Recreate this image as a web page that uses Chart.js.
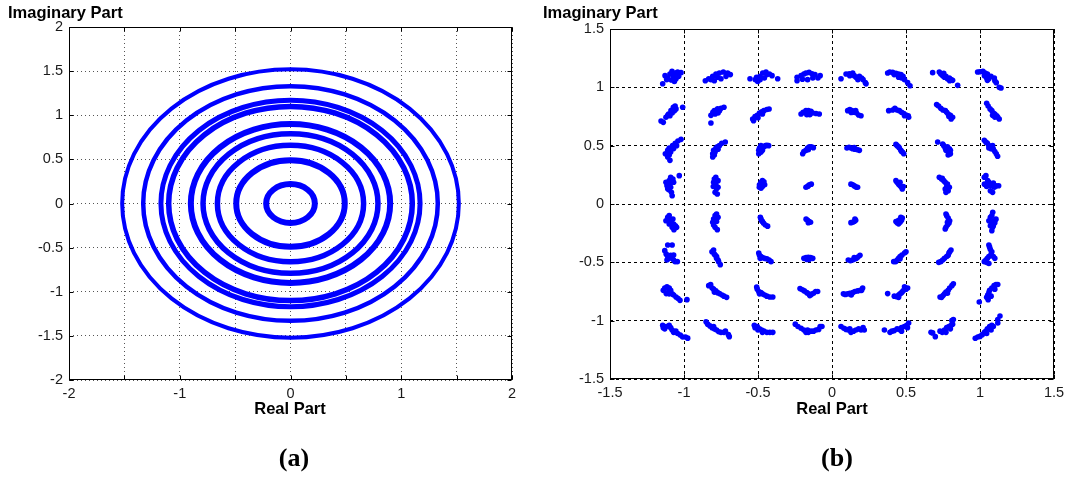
<!DOCTYPE html>
<html>
<head>
<meta charset="utf-8">
<script src="https://cdn.jsdelivr.net/npm/chart.js@4.4.1/dist/chart.umd.min.js"></script>
<style>
  html, body { margin: 0; padding: 0; background: #fff; }
  #wrap { position: relative; width: 1072px; height: 479px; overflow: hidden; background: #fff; }
  canvas { position: absolute; top: 0; }
  #cA { left: 0; }
  #cB { left: 536px; }
  .lbl { position: absolute; font-family: 'Liberation Sans', Arial, sans-serif; font-weight: bold; font-size: 16.5px; line-height: 20px; color: #000; white-space: nowrap; }
  .cap { position: absolute; font-family: 'Liberation Serif', 'Times New Roman', serif; font-weight: bold; font-size: 26px; line-height: 30px; color: #000; white-space: nowrap; transform: translateX(-50%); }
  .ctr { transform: translateX(-50%); }
</style>
</head>
<body>
<div id="wrap">
  <canvas id="cA" width="536" height="479"></canvas>
  <canvas id="cB" width="536" height="479"></canvas>
  <div class="lbl" style="left:8px; top:2px;">Imaginary Part</div>
  <div class="lbl ctr" style="left:290px; top:398px;">Real Part</div>
  <div class="cap" style="left:294px; top:443px;">(a)</div>
  <div class="lbl" style="left:543px; top:2px;">Imaginary Part</div>
  <div class="lbl ctr" style="left:832px; top:398px;">Real Part</div>
  <div class="cap" style="left:837px; top:443px;">(b)</div>
</div>
<script>
// ---------- (a) ring radii ----------
const ringRadii = [0.22, 0.49, 0.66, 0.79, 0.90, 1.10, 1.17, 1.33, 1.52];
const ringWidths = [6, 6, 5.5, 5.5, 6, 5.5, 5, 4.5, 4];

// ---------- tick values ----------
const ticksA = [-2, -1.5, -1, -0.5, 0, 0.5, 1, 1.5, 2];
const ticksB = [-1.5, -1, -0.5, 0, 0.5, 1, 1.5];

// ---------- (b) constellation points, grouped by row (Real, Imag) ----------
const rowQ1 = [
 [-1.144,1.031],[-1.128,1.100],[-1.110,1.080],[-1.095,1.114],[-1.081,1.137],[-1.072,1.094],[-1.059,1.123],[-1.043,1.131],[-1.020,1.126],[-1.086,1.063],[-1.054,1.074],[-1.036,1.094],[-1.117,1.066],[-1.065,1.051],
 [-0.856,1.057],[-0.833,1.074],[-0.806,1.094],[-0.784,1.114],[-0.761,1.123],[-0.734,1.131],[-0.705,1.123],[-0.687,1.109],[-0.795,1.057],[-0.750,1.074],[-0.716,1.094],[-0.818,1.066],[-0.773,1.086],
 [-0.554,1.074],[-0.518,1.066],[-0.502,1.051],[-0.486,1.094],[-0.468,1.123],[-0.446,1.131],[-0.423,1.114],[-0.405,1.100],[-0.367,1.074],[-0.486,1.066],[-0.457,1.080],[-0.440,1.109],[-0.510,1.086],
 [-0.236,1.057],[-0.236,1.086],[-0.209,1.100],[-0.190,1.114],[-0.176,1.123],[-0.155,1.128],[-0.135,1.117],[-0.115,1.109],[-0.080,1.100],[-0.095,1.080],[-0.130,1.080],[-0.165,1.066],[-0.200,1.070],
 [0.061,1.074],[0.095,1.114],[0.117,1.117],[0.140,1.123],[0.150,1.100],[0.162,1.086],[0.175,1.066],[0.185,1.094],[0.200,1.080],[0.210,1.066],[0.225,1.040],[0.230,1.030],[0.120,1.100],
 [0.376,1.123],[0.390,1.131],[0.410,1.128],[0.432,1.120],[0.450,1.114],[0.466,1.109],[0.480,1.094],[0.470,1.080],[0.490,1.066],[0.450,1.086],[0.420,1.109],[0.511,1.040],[0.527,1.014],
 [0.680,1.126],[0.725,1.131],[0.735,1.114],[0.748,1.100],[0.760,1.086],[0.770,1.094],[0.780,1.074],[0.793,1.080],[0.805,1.066],[0.815,1.060],[0.795,1.057],[0.849,1.017],[0.755,1.120],
 [0.984,1.131],[1.000,1.134],[1.020,1.137],[1.035,1.123],[1.050,1.114],[1.030,1.100],[1.045,1.080],[1.060,1.074],[1.074,1.094],[1.097,1.080],[1.100,1.057],[1.110,1.040],[1.130,1.000],[1.142,0.994],[1.050,1.060]
];
const rowQ2 = [
 [-1.155,0.711],[-1.140,0.700],[-1.122,0.743],[-1.104,0.772],[-1.088,0.800],[-1.072,0.829],[-1.060,0.840],[-1.054,0.815],[-1.080,0.780],[-1.095,0.757],[-1.110,0.760],[-1.009,0.829],[-1.065,0.800],
 [-0.818,0.694],[-0.818,0.760],[-0.805,0.786],[-0.795,0.800],[-0.790,0.772],[-0.773,0.815],[-0.760,0.800],[-0.750,0.820],[-0.730,0.829],[-0.770,0.780],
 [-0.536,0.729],[-0.530,0.714],[-0.520,0.750],[-0.505,0.760],[-0.490,0.780],[-0.475,0.790],[-0.460,0.800],[-0.440,0.810],[-0.425,0.814],[-0.470,0.772],[-0.500,0.740],
 [-0.209,0.772],[-0.195,0.785],[-0.176,0.800],[-0.160,0.800],[-0.142,0.795],[-0.130,0.780],[-0.108,0.776],[-0.086,0.772],[-0.170,0.766],[-0.150,0.765],
 [0.106,0.800],[0.120,0.809],[0.135,0.800],[0.150,0.786],[0.165,0.780],[0.180,0.763],[0.196,0.757],[0.160,0.800],[0.130,0.785],
 [0.383,0.800],[0.410,0.806],[0.425,0.820],[0.440,0.806],[0.455,0.800],[0.470,0.786],[0.485,0.776],[0.500,0.763],[0.515,0.757],[0.518,0.743],[0.490,0.757],
 [0.707,0.852],[0.720,0.840],[0.735,0.820],[0.750,0.806],[0.766,0.800],[0.775,0.786],[0.785,0.772],[0.800,0.760],[0.805,0.729],[0.815,0.743],[0.790,0.750],
 [1.045,0.863],[1.055,0.840],[1.068,0.815],[1.080,0.800],[1.090,0.780],[1.100,0.772],[1.113,0.757],[1.120,0.743],[1.130,0.729],[1.100,0.745],[1.085,0.760]
];
const rowQ3 = [
 [-1.126,0.431],[-1.110,0.403],[-1.110,0.460],[-1.100,0.480],[-1.095,0.374],[-1.090,0.445],[-1.077,0.500],[-1.070,0.475],[-1.059,0.520],[-1.050,0.500],[-1.041,0.540],[-1.020,0.554],[-1.100,0.420],
 [-0.806,0.403],[-0.806,0.430],[-0.800,0.460],[-0.790,0.445],[-0.784,0.480],[-0.775,0.490],[-0.770,0.470],[-0.761,0.500],[-0.745,0.520],[-0.721,0.531],[-0.795,0.420],
 [-0.495,0.431],[-0.495,0.460],[-0.490,0.480],[-0.480,0.500],[-0.470,0.460],[-0.460,0.490],[-0.450,0.500],[-0.440,0.503],[-0.428,0.500],[-0.480,0.445],
 [-0.198,0.431],[-0.190,0.450],[-0.176,0.460],[-0.165,0.480],[-0.153,0.490],[-0.140,0.490],[-0.126,0.483],[-0.160,0.465],
 [0.101,0.480],[0.115,0.486],[0.128,0.480],[0.140,0.474],[0.155,0.470],[0.170,0.466],[0.185,0.460],[0.150,0.483],
 [0.432,0.511],[0.440,0.500],[0.450,0.490],[0.455,0.480],[0.465,0.460],[0.477,0.443],[0.485,0.431],[0.470,0.450],
 [0.714,0.531],[0.748,0.514],[0.755,0.500],[0.765,0.480],[0.780,0.490],[0.793,0.474],[0.800,0.460],[0.790,0.445],[0.785,0.420],[0.800,0.430],[0.770,0.460],
 [1.029,0.546],[1.040,0.530],[1.050,0.520],[1.060,0.500],[1.070,0.490],[1.075,0.474],[1.090,0.470],[1.100,0.450],[1.110,0.431],[1.119,0.409],[1.085,0.500],[1.060,0.480]
];
const rowQ4 = [
 [-1.122,0.186],[-1.115,0.157],[-1.110,0.130],[-1.100,0.200],[-1.095,0.171],[-1.090,0.143],[-1.085,0.100],[-1.080,0.071],[-1.075,0.214],[-1.070,0.186],[-1.032,0.243],[-1.090,0.229],[-1.100,0.120],
 [-0.802,0.150],[-0.800,0.186],[-0.795,0.214],[-0.785,0.229],[-0.785,0.170],[-0.780,0.130],[-0.790,0.100],[-0.770,0.200],[-0.775,0.086],[-0.770,0.143],
 [-0.491,0.143],[-0.490,0.165],[-0.480,0.186],[-0.470,0.200],[-0.460,0.190],[-0.455,0.165],[-0.470,0.150],[-0.480,0.135],
 [-0.176,0.143],[-0.165,0.150],[-0.153,0.165],[-0.140,0.170],[-0.160,0.157],
 [0.128,0.170],[0.140,0.165],[0.151,0.155],[0.163,0.145],[0.173,0.143],
 [0.432,0.200],[0.440,0.186],[0.450,0.170],[0.460,0.157],[0.470,0.143],[0.475,0.129],[0.482,0.150],[0.460,0.186],
 [0.725,0.229],[0.740,0.214],[0.755,0.200],[0.765,0.186],[0.780,0.170],[0.775,0.150],[0.765,0.129],[0.770,0.100],[0.785,0.114],[0.793,0.143],[0.745,0.220],
 [1.029,0.229],[1.040,0.243],[1.052,0.200],[1.060,0.171],[1.030,0.170],[1.045,0.150],[1.074,0.157],[1.090,0.180],[1.097,0.143],[1.110,0.157],[1.126,0.157],[1.070,0.114],[1.085,0.100],[1.060,0.186]
];
const rowQ5 = [
 [-1.122,-0.143],[-1.110,-0.114],[-1.100,-0.100],[-1.095,-0.140],[-1.086,-0.157],[-1.075,-0.129],[-1.070,-0.171],[-1.080,-0.200],[-1.068,-0.220],[-1.050,-0.200],[-1.058,-0.186],[-1.100,-0.171],
 [-0.780,-0.086],[-0.790,-0.100],[-0.800,-0.129],[-0.806,-0.157],[-0.800,-0.180],[-0.790,-0.200],[-0.775,-0.220],[-0.780,-0.150],[-0.770,-0.114],
 [-0.484,-0.114],[-0.480,-0.130],[-0.470,-0.150],[-0.462,-0.165],[-0.450,-0.180],[-0.435,-0.190],[-0.475,-0.143],
 [-0.175,-0.130],[-0.165,-0.140],[-0.155,-0.150],[-0.145,-0.157],[-0.160,-0.160],
 [0.128,-0.160],[0.140,-0.157],[0.150,-0.150],[0.160,-0.140],[0.155,-0.129],
 [0.432,-0.150],[0.440,-0.160],[0.450,-0.170],[0.460,-0.157],[0.470,-0.140],[0.475,-0.120],[0.465,-0.114],[0.450,-0.140],
 [0.770,-0.086],[0.775,-0.100],[0.785,-0.120],[0.795,-0.143],[0.790,-0.165],[0.780,-0.180],[0.770,-0.200],[0.765,-0.214],[0.780,-0.157],
 [1.086,-0.071],[1.080,-0.100],[1.070,-0.114],[1.060,-0.143],[1.075,-0.157],[1.095,-0.143],[1.100,-0.160],[1.090,-0.186],[1.085,-0.200],[1.080,-0.229],[1.070,-0.186],[1.108,-0.130]
];
const rowQ6 = [
 [-1.110,-0.351],[-1.080,-0.351],[-1.130,-0.400],[-1.120,-0.430],[-1.110,-0.450],[-1.100,-0.466],[-1.090,-0.440],[-1.080,-0.460],[-1.070,-0.480],[-1.060,-0.494],[-1.045,-0.494],[-1.115,-0.480],[-1.070,-0.437],
 [-0.811,-0.409],[-0.800,-0.395],[-0.795,-0.430],[-0.788,-0.440],[-0.780,-0.466],[-0.770,-0.480],[-0.766,-0.494],[-0.755,-0.520],[-0.780,-0.450],
 [-0.495,-0.420],[-0.490,-0.440],[-0.480,-0.450],[-0.470,-0.460],[-0.455,-0.466],[-0.440,-0.470],[-0.425,-0.480],[-0.412,-0.494],[-0.485,-0.466],
 [-0.190,-0.466],[-0.175,-0.460],[-0.160,-0.457],[-0.145,-0.460],[-0.130,-0.466],[-0.155,-0.475],[-0.170,-0.475],
 [0.110,-0.480],[0.125,-0.485],[0.140,-0.480],[0.155,-0.470],[0.165,-0.466],[0.175,-0.455],[0.189,-0.440],[0.150,-0.460],
 [0.417,-0.494],[0.430,-0.494],[0.440,-0.480],[0.450,-0.466],[0.460,-0.450],[0.473,-0.437],[0.490,-0.420],[0.500,-0.409],[0.460,-0.470],
 [0.721,-0.500],[0.735,-0.494],[0.748,-0.480],[0.760,-0.466],[0.775,-0.450],[0.785,-0.440],[0.790,-0.420],[0.804,-0.395],[0.795,-0.409],
 [1.060,-0.351],[1.065,-0.370],[1.070,-0.390],[1.080,-0.410],[1.075,-0.430],[1.060,-0.450],[1.050,-0.466],[1.040,-0.480],[1.029,-0.494],[1.100,-0.466],[1.090,-0.450],[1.060,-0.510],[1.045,-0.500]
];
const rowQ7 = [
 [-1.140,-0.740],[-1.130,-0.720],[-1.115,-0.710],[-1.100,-0.720],[-1.090,-0.740],[-1.110,-0.760],[-1.120,-0.768],[-1.080,-0.770],[-1.070,-0.780],[-1.054,-0.797],[-1.040,-0.810],[-1.027,-0.826],[-0.980,-0.820],[-1.100,-0.770],
 [-0.833,-0.700],[-0.820,-0.690],[-0.810,-0.720],[-0.800,-0.730],[-0.785,-0.745],[-0.773,-0.760],[-0.760,-0.768],[-0.743,-0.780],[-0.730,-0.790],[-0.712,-0.800],[-0.795,-0.755],
 [-0.509,-0.711],[-0.505,-0.730],[-0.495,-0.750],[-0.480,-0.760],[-0.470,-0.770],[-0.455,-0.780],[-0.440,-0.790],[-0.420,-0.797],[-0.400,-0.797],[-0.490,-0.770],
 [-0.216,-0.725],[-0.200,-0.735],[-0.187,-0.745],[-0.170,-0.760],[-0.158,-0.770],[-0.140,-0.775],[-0.125,-0.765],[-0.110,-0.750],[-0.097,-0.750],[-0.150,-0.785],
 [0.077,-0.770],[0.090,-0.775],[0.106,-0.770],[0.120,-0.765],[0.140,-0.760],[0.155,-0.750],[0.173,-0.745],[0.190,-0.740],[0.207,-0.720],[0.200,-0.740],[0.130,-0.780],
 [0.376,-0.768],[0.421,-0.790],[0.435,-0.795],[0.450,-0.780],[0.460,-0.770],[0.470,-0.760],[0.480,-0.745],[0.500,-0.730],[0.511,-0.720],[0.490,-0.710],[0.450,-0.800],
 [0.730,-0.797],[0.740,-0.800],[0.750,-0.785],[0.760,-0.770],[0.770,-0.755],[0.785,-0.740],[0.795,-0.720],[0.810,-0.700],[0.820,-0.683],[0.780,-0.765],
 [0.995,-0.840],[1.045,-0.800],[1.052,-0.780],[1.060,-0.760],[1.065,-0.740],[1.080,-0.720],[1.095,-0.700],[1.108,-0.690],[1.120,-0.690],[1.100,-0.730],[1.075,-0.790],[1.055,-0.820]
];
const rowQ8 = [
 [-1.144,-1.040],[-1.140,-1.060],[-1.130,-1.070],[-1.120,-1.050],[-1.100,-1.040],[-1.090,-1.060],[-1.080,-1.080],[-1.070,-1.100],[-1.055,-1.090],[-1.043,-1.110],[-1.025,-1.123],[-1.009,-1.140],[-0.990,-1.140],[-0.975,-1.150],
 [-0.851,-1.010],[-0.840,-1.030],[-0.825,-1.045],[-0.810,-1.060],[-0.795,-1.070],[-0.780,-1.080],[-0.765,-1.095],[-0.750,-1.100],[-0.730,-1.100],[-0.720,-1.090],[-0.700,-1.120],[-0.694,-1.137],[-0.800,-1.050],
 [-0.525,-1.040],[-0.520,-1.060],[-0.505,-1.050],[-0.490,-1.070],[-0.475,-1.080],[-0.460,-1.090],[-0.440,-1.100],[-0.420,-1.100],[-0.400,-1.100],[-0.470,-1.100],[-0.500,-1.080],
 [-0.248,-1.030],[-0.230,-1.050],[-0.209,-1.065],[-0.190,-1.080],[-0.176,-1.100],[-0.160,-1.100],[-0.142,-1.090],[-0.125,-1.090],[-0.108,-1.080],[-0.090,-1.075],[-0.080,-1.050],[-0.068,-1.050],[-0.165,-1.080],
 [0.061,-1.050],[0.080,-1.065],[0.095,-1.075],[0.110,-1.080],[0.128,-1.100],[0.145,-1.090],[0.162,-1.080],[0.180,-1.070],[0.196,-1.080],[0.210,-1.060],[0.218,-1.080],[0.120,-1.070],
 [0.354,-1.080],[0.392,-1.100],[0.405,-1.090],[0.421,-1.085],[0.440,-1.070],[0.455,-1.075],[0.470,-1.060],[0.489,-1.050],[0.505,-1.040],[0.518,-1.020],[0.510,-1.060],[0.470,-1.090],
 [0.669,-1.100],[0.680,-1.105],[0.698,-1.137],[0.730,-1.090],[0.745,-1.100],[0.760,-1.080],[0.775,-1.060],[0.790,-1.050],[0.805,-1.040],[0.810,-1.000],[0.820,-0.990],[0.800,-1.070],[0.770,-1.100],[0.815,-1.030],
 [0.968,-1.151],[0.985,-1.140],[1.000,-1.135],[1.015,-1.120],[1.030,-1.100],[1.040,-1.090],[1.050,-1.070],[1.065,-1.050],[1.080,-1.040],[1.090,-1.050],[1.075,-1.080],[1.120,-0.990],[1.135,-0.960],[1.120,-1.020],[1.045,-1.110]
];

// ---------- shared helpers ----------
Chart.defaults.font.family = "'Liberation Sans', Arial, sans-serif";
Chart.defaults.font.size = 14.5;
Chart.defaults.color = '#000';

const fmt = v => String(Math.round(v * 10) / 10);

function framePlugin(tickVals) {
  return {
    id: 'frame',
    afterDatasetsDraw(chart) {
      const { ctx, chartArea: a, scales: { x, y } } = chart;
      const L = Math.round(a.left) + 0.5, R = Math.round(a.right) - 0.5;
      const T = Math.round(a.top) + 0.5, B = Math.round(a.bottom) - 0.5;
      ctx.save();
      ctx.strokeStyle = '#000';
      ctx.lineWidth = 1;
      ctx.setLineDash([]);
      ctx.strokeRect(L, T, R - L, B - T);
      const len = 4;
      ctx.beginPath();
      tickVals.forEach(v => {
        const px = Math.round(x.getPixelForValue(v)) + 0.5;
        ctx.moveTo(px, B); ctx.lineTo(px, B - len);
        ctx.moveTo(px, T); ctx.lineTo(px, T + len);
      });
      tickVals.forEach(v => {
        const py = Math.round(y.getPixelForValue(v)) + 0.5;
        ctx.moveTo(L, py); ctx.lineTo(L + len, py);
        ctx.moveTo(R, py); ctx.lineTo(R - len, py);
      });
      ctx.stroke();
      ctx.restore();
    }
  };
}

const ringsPlugin = {
  id: 'rings',
  beforeDatasetsDraw(chart) {
    const { ctx, chartArea: a, scales: { x, y } } = chart;
    ctx.save();
    ctx.beginPath();
    ctx.rect(a.left, a.top, a.right - a.left, a.bottom - a.top);
    ctx.clip();
    const cx = x.getPixelForValue(0), cy = y.getPixelForValue(0);
    ringRadii.forEach((r, i) => {
      const rx = x.getPixelForValue(r) - cx;
      const ry = cy - y.getPixelForValue(r);
      ctx.beginPath();
      ctx.ellipse(cx, cy, rx, ry, 0, 0, Math.PI * 2);
      ctx.strokeStyle = '#0000ff';
      ctx.lineWidth = ringWidths[i];
      ctx.stroke();
    });
    ctx.restore();
  }
};

function scaleOpts(min, max, size, dash, gridColor, labelFilter, isY) {
  return {
    type: 'linear', min, max,
    ticks: {
      stepSize: 0.5, autoSkip: false, maxRotation: 0, padding: isY ? 6 : 5,
      color: '#1a1a1a',
      font: { size: 14.5 },
      callback: v => labelFilter(v) ? fmt(v) : ''
    },
    grid: { color: gridColor, lineWidth: 1, drawTicks: false },
    border: { display: false, dash },
    afterFit: s => { if (isY) s.width = size; else s.height = size; }
  };
}

// ---------- chart (a) ----------
new Chart(document.getElementById('cA'), {
  type: 'scatter',
  data: { datasets: [] },
  options: {
    responsive: false, animation: false, devicePixelRatio: 1, events: [],
    layout: { padding: { left: 0, right: 24, top: 27, bottom: 69 } },
    plugins: { legend: { display: false }, tooltip: { enabled: false } },
    scales: {
      x: scaleOpts(-2, 2, 30, [1, 3], '#555', v => Number.isInteger(v), false),
      y: scaleOpts(-2, 2, 69, [1, 3], '#555', () => true, true)
    }
  },
  plugins: [ringsPlugin, framePlugin(ticksA)]
});

// ---------- chart (b) ----------
const allPts = [...rowQ1, ...rowQ2, ...rowQ3, ...rowQ4, ...rowQ5, ...rowQ6, ...rowQ7, ...rowQ8].map(([x, y]) => ({ x, y }));
new Chart(document.getElementById('cB'), {
  type: 'scatter',
  data: {
    datasets: [{
      label: 'received',
      data: allPts,
      pointRadius: 2.8,
      pointBackgroundColor: '#0000ff',
      pointBorderWidth: 0,
      pointBorderColor: '#0000ff'
    }]
  },
  options: {
    responsive: false, animation: false, devicePixelRatio: 1, events: [],
    layout: { padding: { left: 0, right: 18, top: 29, bottom: 70 } },
    plugins: { legend: { display: false }, tooltip: { enabled: false } },
    scales: {
      x: scaleOpts(-1.5, 1.5, 30, [3, 3], '#000', () => true, false),
      y: scaleOpts(-1.5, 1.5, 74, [3, 3], '#000', () => true, true)
    }
  },
  plugins: [framePlugin(ticksB)]
});
</script>
</body>
</html>
